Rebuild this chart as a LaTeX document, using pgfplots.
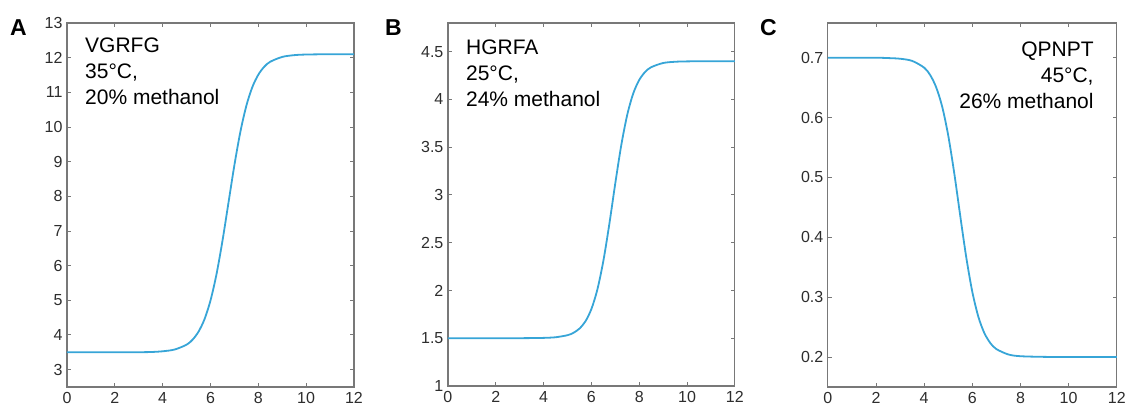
\documentclass[border=0pt]{standalone}
\usepackage{pgfplots}
\pgfplotsset{compat=1.18}
\usepackage{fontspec}
\setmainfont{Liberation Sans}
\definecolor{curve}{RGB}{55,165,215}
\definecolor{frame}{RGB}{120,120,120}
\definecolor{ticklab}{RGB}{45,45,45}
\pgfplotsset{
  panel/.style={
    scale only axis,
    xmin=0, xmax=12,
    xtick={0,2,...,12},
    axis line style={frame, line width=1.2pt},
    tick style={frame, line width=0.9pt},
    major tick length=4pt,
    tick align=inside,
    ticklabel style={font=\fontsize{16}{16}\selectfont, text=ticklab},
    /pgf/number format/assume math mode=true,
    xticklabel style={yshift=-2pt},
    yticklabel style={xshift=-1pt},
  },
  curvestyle/.style={curve, line width=1.8pt, smooth}
}
\begin{document}
\begin{tikzpicture}[x=1pt,y=1pt]
\path (0,0) rectangle (1129,410);
% Panel A
\begin{axis}[panel, at={(67pt,23pt)}, anchor=south west, width=287pt, height=364pt,
  ymin=2.5, ymax=13, ytick={3,4,...,13}]
\addplot[curvestyle] coordinates {
(0,3.5) (1,3.5) (2,3.5) (3,3.502) (3.5,3.507) (4,3.528) (4.5,3.579) (5,3.718) (5.25,3.862)
(5.5,4.093) (5.75,4.452) (6,4.990) (6.25,5.743) (6.5,6.705) (6.75,7.8) (7,8.895)
(7.25,9.857) (7.5,10.610) (7.75,11.148) (8,11.507) (8.25,11.738) (8.5,11.882)
(9,12.021) (9.5,12.072) (10,12.090) (11,12.099) (12,12.1)};
\node[anchor=north west, align=left, inner sep=0pt, font=\fontsize{21}{26}\selectfont]
  at (rel axis cs:0,1) [xshift=18pt, yshift=-15pt] {VGRFG\\35°C,\\20\% methanol};
\end{axis}
% Panel B
\begin{axis}[panel, at={(448pt,24pt)}, anchor=south west, width=287pt, height=363pt,
  ymin=1, ymax=4.8, ytick={1,1.5,...,4.5}]
\addplot[curvestyle] coordinates {
(0,1.5) (1,1.5) (2,1.5) (3,1.5) (3.5,1.501) (4,1.503) (4.5,1.5095) (5,1.531) (5.25,1.556)
(5.5,1.600) (5.75,1.676) (6,1.805) (6.25,2.009) (6.5,2.308) (6.75,2.694) (7,3.122)
(7.25,3.521) (7.5,3.839) (7.75,4.062) (8,4.203) (8.25,4.288) (8.5,4.337)
(9,4.381) (9.5,4.394) (10,4.398) (11,4.4) (12,4.4)};
\node[anchor=north west, align=left, inner sep=0pt, font=\fontsize{21}{26}\selectfont]
  at (rel axis cs:0,1) [xshift=18pt, yshift=-17pt] {HGRFA\\25°C,\\24\% methanol};
\end{axis}
% Panel C
\begin{axis}[panel, at={(828pt,23pt)}, anchor=south west, width=289pt, height=364pt,
  ymin=0.15, ymax=0.758, ytick={0.2,0.3,...,0.7},
  yticklabel style={/pgf/number format/fixed, /pgf/number format/precision=1}]
\addplot[curvestyle] coordinates {
(0,0.7) (1,0.7) (2,0.7) (2.5,0.6994) (3,0.6983) (3.5,0.6947) (4,0.6834) (4.25,0.6711)
(4.5,0.6505) (4.75,0.6180) (5,0.5701) (5.25,0.5071) (5.5,0.4355) (5.75,0.3662)
(6,0.3089) (6.25,0.2673) (6.5,0.2400) (6.75,0.2232) (7,0.2132) (7.5,0.2042)
(8,0.2013) (9,0.2002) (10,0.2) (11,0.2) (12,0.2)};
\node[anchor=north east, align=right, inner sep=0pt, font=\fontsize{21}{26}\selectfont]
  at (rel axis cs:1,1) [xshift=-23pt, yshift=-19pt] {QPNPT\\45°C,\\26\% methanol};
\end{axis}
% Panel letters
\node[anchor=base west, inner sep=0pt, font=\fontsize{23}{23}\selectfont\bfseries] at (10,374) {A};
\node[anchor=base west, inner sep=0pt, font=\fontsize{23}{23}\selectfont\bfseries] at (385,374) {B};
\node[anchor=base west, inner sep=0pt, font=\fontsize{23}{23}\selectfont\bfseries] at (760,374) {C};
\end{tikzpicture}
\end{document}
